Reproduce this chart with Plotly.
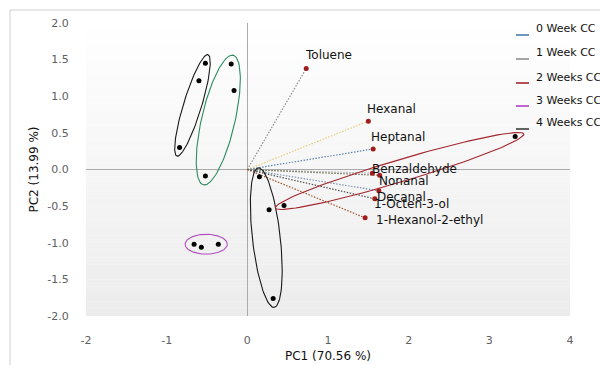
import numpy as np
import plotly.graph_objects as go

# ---- data ----
score_pc1 = [-0.52, -0.60, -0.84, -0.20, -0.165, -0.52, -0.66, -0.57, -0.36, 0.15, 0.27, 0.32, 0.455, 3.32]
score_pc2 = [1.45, 1.21, 0.30, 1.44, 1.08, -0.09, -1.02, -1.06, -1.02, -0.10, -0.55, -1.76, -0.49, 0.45]
score_cluster = [0, 0, 0, 1, 1, 1, 2, 2, 2, 3, 3, 3, 4, 4]

loading_names = ["Toluene", "Hexanal", "Heptanal", "Benzaldehyde", "Nonanal",
                 "Decanal", "1-Octen-3-ol", "1-Hexanol-2-ethyl"]
loading_pc1 = [0.73, 1.50, 1.56, 1.55, 1.64, 1.63, 1.58, 1.46]
loading_pc2 = [1.38, 0.66, 0.28, -0.05, -0.08, -0.29, -0.40, -0.66]

legend_labels = ["0 Week CC", "1 Week CC", "2 Weeks CC", "3 Weeks CC", "4 Weeks CC"]

x_ticks = [-2, -1, 0, 1, 2, 3, 4]
y_ticks = [-2.0, -1.5, -1.0, -0.5, 0.0, 0.5, 1.0, 1.5, 2.0]

# ---- styles ----
cluster_colors = ["#1a1a1a", "#2e8b62", "#b44cc0", "#1a1a1a", "#a3262e"]
cluster_pad_minor = [8, 8, 7, 8, 11]
loading_line_colors = ["#8c8c8c", "#e6cf7a", "#5f84ad", "#a8a8a8", "#6e6e55",
                       "#7a93b0", "#505050", "#a0522d"]
label_offsets = [(-3, 13), (-3, 12), (-4, 12), (-2, 4), (-3, -6), (-4, -6), (-3, -5), (9, -2)]
legend_colors = ["#4a7db0", "#8f8f8f", "#a3262e", "#b440c8", "#3c3c3c"]

W, H = 600, 365
ML, MR, MT, MB = 86, 30, 23, 49
XR = [-2, 4]
YR = [-2, 2]
pw, ph = W - ML - MR, H - MT - MB
sx = pw / (XR[1] - XR[0])
sy = ph / (YR[1] - YR[0])

fig = go.Figure()

# gradient background bands
shapes = []
nb = 40
for i in range(nb):
    y0 = YR[1] - (YR[1] - YR[0]) * i / nb
    y1 = YR[1] - (YR[1] - YR[0]) * (i + 1) / nb
    t = (i + 0.5) / nb
    c = int(round(255 - 19 * t))
    shapes.append(dict(type="rect", xref="x", yref="y", x0=XR[0], x1=XR[1], y0=y1, y1=y0,
                       fillcolor=f"rgb({c},{c},{c})", line=dict(width=0), layer="below"))

# outer border
shapes.append(dict(type="rect", xref="paper", yref="paper",
                   x0=(10 - ML) / pw, x1=(W + 5 - ML) / pw,
                   y0=-(H + 5 - MT - ph) / ph, y1=(MT + ph - 10) / ph,
                   line=dict(color="#cfcfcf", width=1), fillcolor="rgba(0,0,0,0)", layer="below"))

# loading lines
for i, name in enumerate(loading_names):
    fig.add_trace(go.Scatter(x=[0, loading_pc1[i]], y=[0, loading_pc2[i]], mode="lines",
                             line=dict(color=loading_line_colors[i], width=1.2, dash="1.5px,1.5px"),
                             hoverinfo="skip", showlegend=False))

# cluster ellipses
def ellipse(xs, ys, pad_major=9.0, pad_minor=8.0):
    px = np.array(xs) * sx
    py = np.array(ys) * sy
    n = len(px)
    best = (0, 0, 1)
    for a in range(n):
        for b in range(a + 1, n):
            d = np.hypot(px[a] - px[b], py[a] - py[b])
            if d > best[0]:
                best = (d, a, b)
    d, a, b = best
    cx, cy = (px[a] + px[b]) / 2, (py[a] + py[b]) / 2
    ux, uy = (px[b] - px[a]) / d, (py[b] - py[a]) / d
    perp = max(abs((px[k] - cx) * (-uy) + (py[k] - cy) * ux) for k in range(n))
    A = d / 2 + pad_major
    B = perp + pad_minor
    t = np.linspace(0, 2 * np.pi, 120)
    ex = cx + A * np.cos(t) * ux - B * np.sin(t) * uy
    ey = cy + A * np.cos(t) * uy + B * np.sin(t) * ux
    return ex / sx, ey / sy

for g in sorted(set(score_cluster)):
    xs = [score_pc1[k] for k in range(len(score_pc1)) if score_cluster[k] == g]
    ys = [score_pc2[k] for k in range(len(score_pc2)) if score_cluster[k] == g]
    ex, ey = ellipse(xs, ys, pad_minor=cluster_pad_minor[g])
    fig.add_trace(go.Scatter(x=ex, y=ey, mode="lines",
                             line=dict(color=cluster_colors[g], width=1.1),
                             hoverinfo="skip", showlegend=False))

# loading points
fig.add_trace(go.Scatter(x=loading_pc1, y=loading_pc2, mode="markers",
                         marker=dict(color="#a01c1c", size=5), showlegend=False))
# score points
fig.add_trace(go.Scatter(x=score_pc1, y=score_pc2, mode="markers",
                         marker=dict(color="#000000", size=5), showlegend=False))

annotations = []
for i, name in enumerate(loading_names):
    dx, dy = label_offsets[i]
    annotations.append(dict(x=loading_pc1[i], y=loading_pc2[i], xref="x", yref="y",
                            text=name, showarrow=False, xanchor="left", yanchor="middle",
                            xshift=dx, yshift=dy,
                            font=dict(family="DejaVu Sans", size=12, color="#111111")))

# axis titles
annotations.append(dict(x=0.5, y=0, xref="paper", yref="paper",
                        text="PC1 (70.56 %)", showarrow=False, xanchor="center", yanchor="middle",
                        yshift=-(356 - (MT + ph)), font=dict(family="DejaVu Sans", size=12, color="#111111")))
annotations.append(dict(x=0, y=0.5, xref="paper", yref="paper",
                        text="PC2 (13.99 %)", showarrow=False, xanchor="center", yanchor="middle",
                        xshift=33 - ML, textangle=-90,
                        font=dict(family="DejaVu Sans", size=12, color="#111111")))

# manual legend
leg_text_y = [29, 53, 77, 100, 123]
for i, lab in enumerate(legend_labels):
    ty = leg_text_y[i]
    annotations.append(dict(x=(534 - ML) / pw, y=(MT + ph - ty) / ph, xref="paper", yref="paper",
                            text=lab, showarrow=False, xanchor="left", yanchor="middle",
                            font=dict(family="DejaVu Sans", size=11, color="#111111")))
    shapes.append(dict(type="line", xref="paper", yref="paper",
                       x0=(516 - ML) / pw, x1=(529 - ML) / pw,
                       y0=(MT + ph - ty - 6) / ph, y1=(MT + ph - ty - 6) / ph,
                       line=dict(color=legend_colors[i], width=1.6)))

fig.update_layout(
    width=W, height=H,
    margin=dict(l=ML, r=MR, t=MT, b=MB, pad=0),
    paper_bgcolor="white", plot_bgcolor="white",
    shapes=shapes, annotations=annotations, showlegend=False,
    font=dict(family="DejaVu Sans"),
)
fig.update_xaxes(range=XR, tickvals=x_ticks, ticktext=[str(v) for v in x_ticks],
                 showgrid=False, zeroline=True, zerolinecolor="#ababab", zerolinewidth=1,
                 showline=False, ticks="outside", ticklen=14, tickcolor="rgba(0,0,0,0)",
                 tickfont=dict(size=11, color="#606060"))
fig.update_yaxes(range=YR, tickvals=y_ticks, ticktext=[f"{v:.1f}" for v in y_ticks],
                 showgrid=False, zeroline=True, zerolinecolor="#ababab", zerolinewidth=1,
                 showline=False, ticks="outside", ticklen=14, tickcolor="rgba(0,0,0,0)",
                 tickfont=dict(size=11, color="#606060"))

fig.write_html("out.html", config={"displayModeBar": False},
               post_script="document.body.style.margin='0';document.body.style.overflow='hidden';")
